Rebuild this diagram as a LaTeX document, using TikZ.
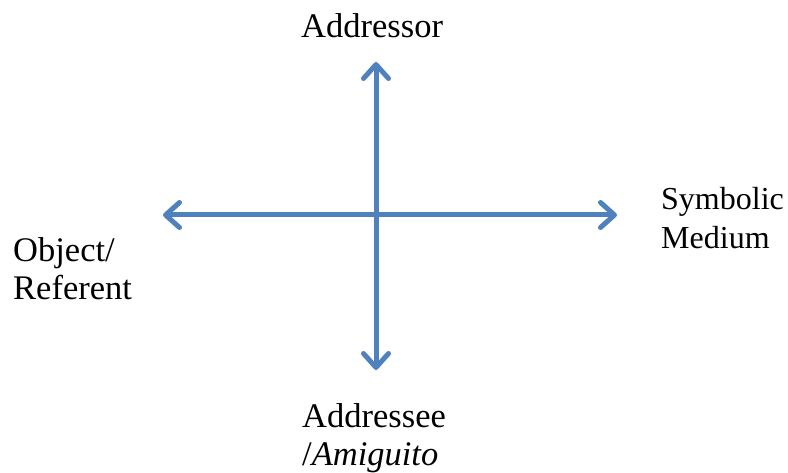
\documentclass[tikz,border=0pt]{standalone}
\usepackage{fontspec}
\setmainfont{Liberation Serif}
\usetikzlibrary{arrows.meta}
\definecolor{axisblue}{HTML}{4F81BD}
\tikzset{
  axis/.style={draw=axisblue, line width=5pt, line cap=round,
    {Straight Barb[length=14pt, width=25pt, line cap=round, line join=round]}-{Straight Barb[length=14pt, width=25pt, line cap=round, line join=round]}},
  lab/.style={font=\fontsize{34.5}{38}\selectfont, inner sep=0pt, anchor=base west, align=left}
}
\begin{document}
\begin{tikzpicture}[x=1pt,y=-1pt]
\useasboundingbox (0,0) rectangle (788,473);
\coordinate (top) at (376,62);
\coordinate (bottom) at (376,370);
\coordinate (left) at (163,215);
\coordinate (right) at (617,215);
\draw[axis] (bottom) -- (top);
\draw[axis] (left) -- (right);
\node[lab] (addressor) at (301,38) {Addressor};
\node[lab, font=\fontsize{32}{39}\selectfont] (symbolic) at (661,249) {Symbolic\\Medium};
\node[lab] (object) at (13,300) {Object/\\Referent};
\node[lab] (addressee) at (302,465) {Addressee\\/\textit{Amiguito}};
\end{tikzpicture}
\end{document}
